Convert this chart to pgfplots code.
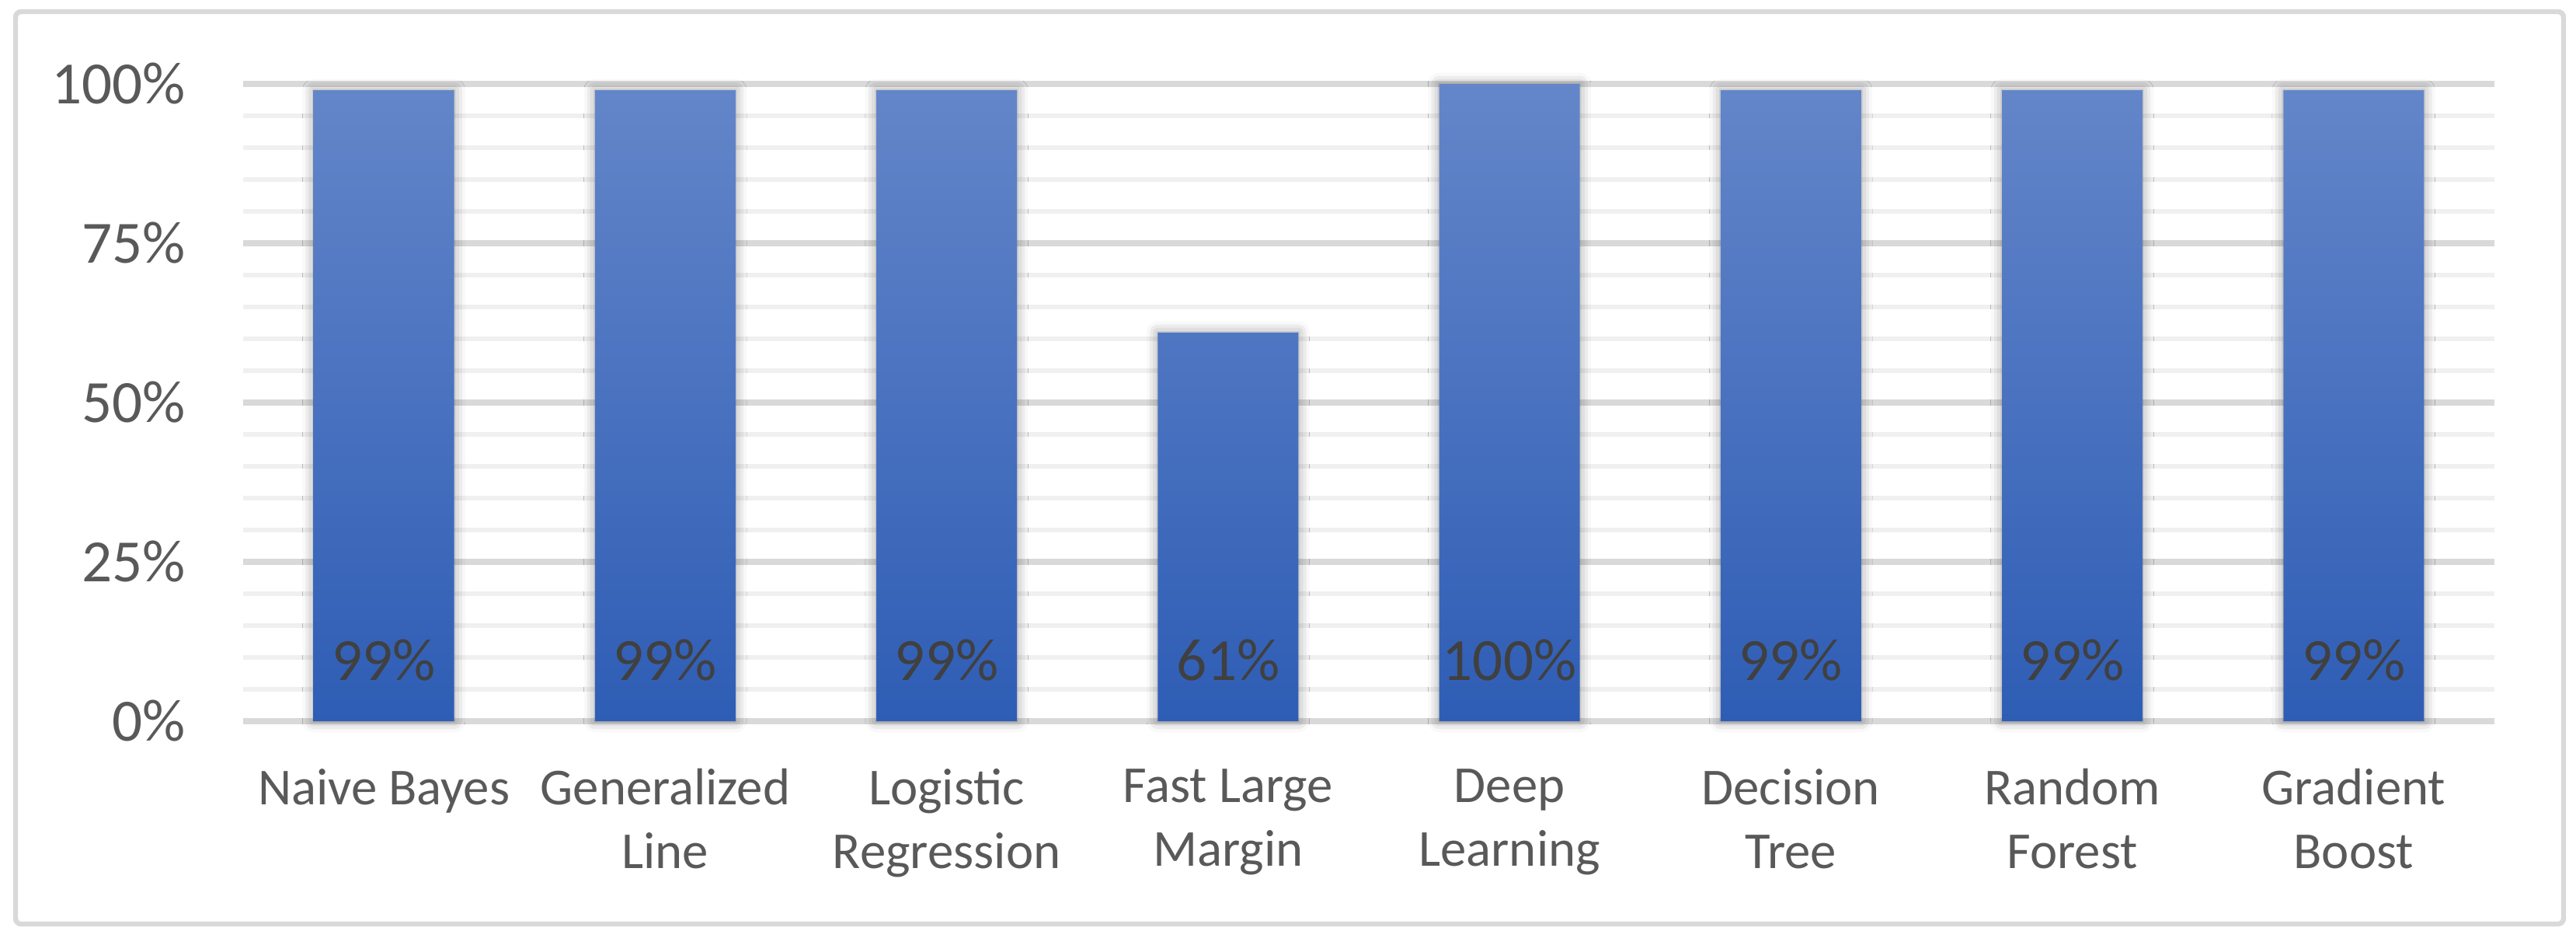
\documentclass[border=0pt]{standalone}
\usepackage{pgfplots}
\pgfplotsset{compat=1.18}
\usepackage{fontspec}
\setmainfont{Carlito}
\usetikzlibrary{calc,shadows.blur}
\definecolor{gridmaj}{HTML}{D9D9D9}
\definecolor{gridmin}{HTML}{F0F0F0}
\definecolor{ticktext}{HTML}{595959}
\definecolor{labtext}{HTML}{404040}
\definecolor{bartop}{HTML}{6486C9}
\definecolor{barmid}{HTML}{4674C9}
\definecolor{barbot}{HTML}{2E5DB5}
\begin{document}
\begin{tikzpicture}
\begin{axis}[
  scale only axis,
  width=405.72pt, height=114.8pt,
  xmin=-0.5, xmax=7.5,
  ymin=0, ymax=100,
  clip=false,
  xtick={0,1,2,3,4,5,6,7},
  xticklabels={Naive Bayes,{Generalized\\Line},{Logistic\\Regression},{Fast Large\\Margin},{Deep\\Learning},{Decision\\Tree},{Random\\Forest},{Gradient\\Boost}},
  ytick={0,25,50,75,100},
  yticklabels={0\%,25\%,50\%,75\%,100\%},
  minor y tick num=4,
  ymajorgrids, yminorgrids,
  major grid style={draw=gridmaj, line width=1pt},
  minor grid style={draw=gridmin, line width=0.85pt},
  major tick length=0pt, minor tick length=0pt,
  axis x line*=bottom,
  axis y line*=left,
  y axis line style={draw=none},
  x axis line style={draw=gridmaj, line width=1.1pt, -},
  xticklabel style={font=\fontsize{9.35}{11.48}\selectfont, text=ticktext, align=center, anchor=north, inner sep=0pt, yshift=-8.4pt},
  yticklabel style={font=\fontsize{10.8}{13}\selectfont, text=ticktext, anchor=east, inner sep=0pt, xshift=-10.2pt},
]
\addplot[ybar, bar width=0.5, draw=none,
  top color=bartop, middle color=barmid, bottom color=barbot,
  blur shadow={shadow xshift=0pt, shadow yshift=0pt, shadow blur radius=2pt, shadow opacity=40},
] coordinates {
  (0,99) (1,99) (2,99) (3,61) (4,100) (5,99) (6,99) (7,99)
};
\addplot[draw=none, mark=none,
  point meta=explicit symbolic,
  nodes near coords,
  every node near coord/.append style={font=\fontsize{10.8}{13}\selectfont, text=labtext, anchor=base, yshift=7.4pt, inner sep=0pt},
] coordinates {
  (0,0) [99\%]
  (1,0) [99\%]
  (2,0) [99\%]
  (3,0) [61\%]
  (4,0) [100\%]
  (5,0) [99\%]
  (6,0) [99\%]
  (7,0) [99\%]
};
\end{axis}
\draw[gridmaj, line width=0.9pt, rounded corners=1pt] ($(current axis.south west)+(-41.02pt,-36.54pt)$) rectangle ($(current axis.south west)+(418.18pt,127.82pt)$);
\useasboundingbox ($(current axis.south west)+(-43.82pt,-39.06pt)$) rectangle ($(current axis.south west)+(420.42pt,129.92pt)$);
\end{tikzpicture}
\end{document}
